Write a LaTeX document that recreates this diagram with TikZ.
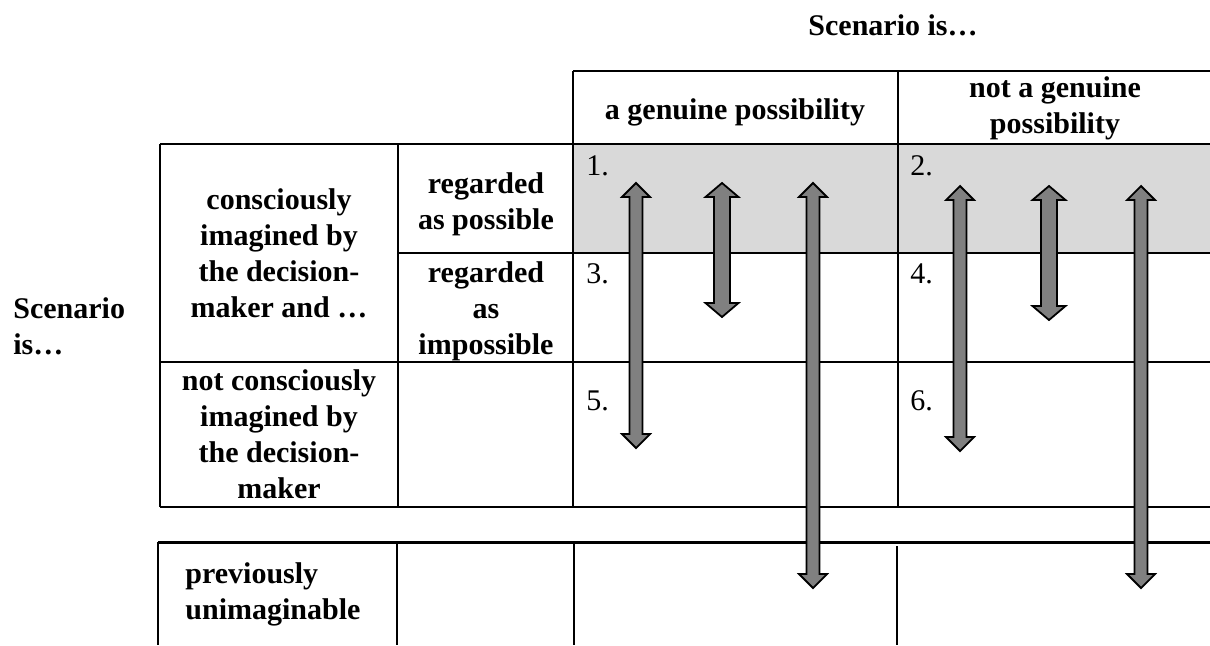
\documentclass[tikz,border=0pt]{standalone}
\usepackage{fontspec}
\setmainfont{Liberation Serif}
\usepackage{tikz}
\usepackage{xcolor}

\definecolor{rowshade}{HTML}{D9D9D9}
\definecolor{bargray}{HTML}{808080}

% x, top tip, bottom tip, half shaft, half head
\newcommand{\updownbar}[5]{%
  \filldraw[fill=bargray, draw=black, line width=0.9pt]
    (#1,#2) -- (#1+#5,#2+14) -- (#1+#4,#2+14) -- (#1+#4,#3-14) -- (#1+#5,#3-14)
    -- (#1,#3) -- (#1-#5,#3-14) -- (#1-#4,#3-14) -- (#1-#4,#2+14) -- (#1-#5,#2+14) -- cycle;}

\begin{document}
\begin{tikzpicture}[x=0.5pt,y=-0.5pt,
    head/.style={font=\fontsize{15}{18}\selectfont\bfseries, align=center, inner sep=0pt},
    num/.style={font=\fontsize{15}{18}\selectfont, inner sep=0pt, anchor=base west},
    rule/.style={line width=1pt}]
      \useasboundingbox (0,0) rectangle (1210,645);
      \fill[rowshade] (573,144) rectangle (1210,253);
      % upper table
      \draw[rule] (573,71) -- (1210,71);
      \draw[rule] (160,144) -- (1210,144);
      \draw[rule] (398,253) -- (1210,253);
      \draw[rule] (160,362) -- (1210,362);
      \draw[rule] (160,507) -- (1210,507);
      \draw[rule] (160,144) -- (160,507);
      \draw[rule] (398,144) -- (398,507);
      \draw[rule] (573,71) -- (573,507);
      \draw[rule] (898,71) -- (898,507);
      % lower table
      \draw[line width=1.5pt] (158,542) -- (1210,542);
      \draw[rule] (158,542) -- (158,645);
      \draw[rule] (397,542) -- (397,645);
      \draw[rule] (574,542) -- (574,645);
      \draw[rule] (897,546) -- (897,645);
      \node[head, anchor=base] (top) at (893,35) {Scenario is…};
      \node[head, align=left, anchor=west] (side) at (13,326) {Scenario\\is…};
      \node[head, anchor=base] (gen) at (735,119) {a genuine possibility};
      \node[head] (notgen) at (1055,108) {not a genuine\\possibility};
      \node[head] (cons) at (279,253.5) {consciously\\imagined by\\the decision-\\maker and …};
      \node[head] (poss) at (486,204) {regarded\\as possible};
      \node[head] (imposs) at (486,311) {regarded\\as\\impossible};
      \node[head] (notcons) at (279,434) {not consciously\\imagined by\\the decision-\\maker};
      \node[head, align=left, anchor=west] (prev) at (185,594) {previously\\unimaginable};
      \node[num] (n1) at (586,175) {1.};
      \node[num] (n2) at (910,175) {2.};
      \node[num] (n3) at (586,283) {3.};
      \node[num] (n4) at (910,283) {4.};
      \node[num] (n5) at (586,410) {5.};
      \node[num] (n6) at (910,410) {6.};
      % arrows
      \updownbar{636}{183}{448}{6.5}{14}
      \updownbar{722}{183}{317}{8}{16.5}
      \updownbar{813}{183}{588}{6.5}{14}
      \updownbar{960}{186}{451}{6.5}{14}
      \updownbar{1049}{186}{320}{8}{16.5}
      \updownbar{1141}{186}{588}{6.5}{14}
    \end{tikzpicture}
\end{document}
